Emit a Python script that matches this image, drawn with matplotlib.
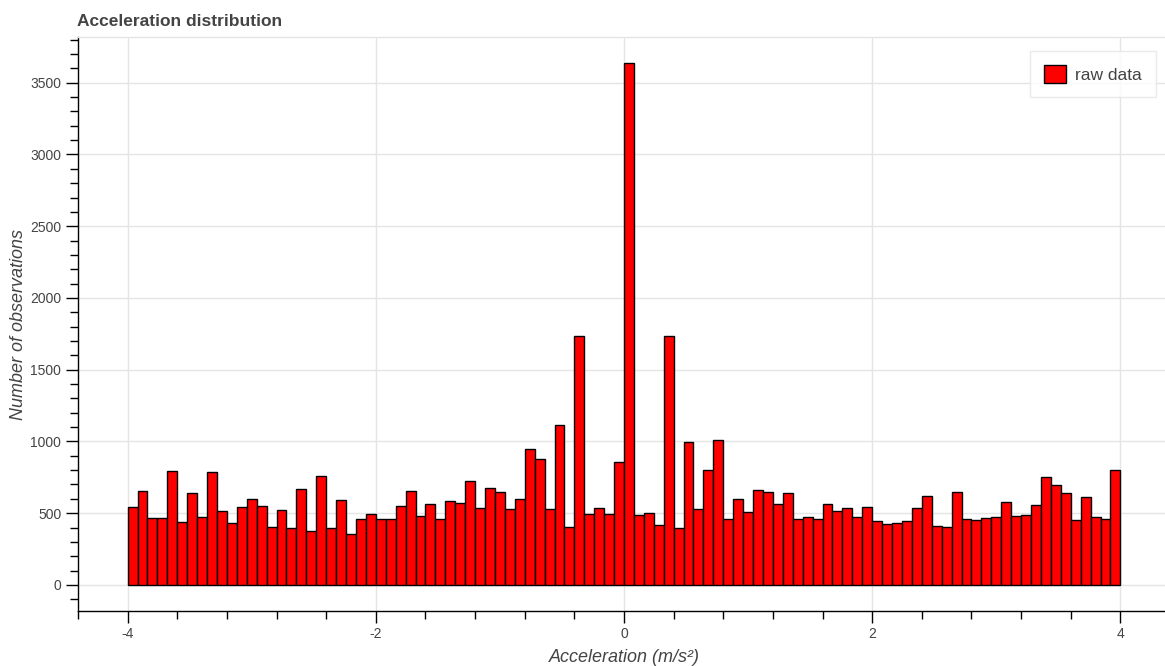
import numpy as np
import matplotlib.pyplot as plt
from matplotlib.ticker import MultipleLocator

# histogram counts, 100 bins from -4 to 4
counts = [
    543, 656, 466, 466, 793, 438, 638, 476, 789, 517,
    431, 541, 601, 548, 404, 522, 399, 666, 376, 759,
    399, 592, 357, 459, 492, 462, 462, 550, 654, 478,
    564, 462, 582, 573, 726, 536, 673, 650, 527, 596,
    946, 879, 527, 1116, 404, 1735, 494, 534, 494, 856,
    3637, 487, 503, 417, 1735, 399, 993, 527, 803, 1009,
    459, 599, 506, 661, 650, 564, 638, 457, 473, 459,
    562, 517, 536, 471, 541, 445, 424, 429, 448, 538,
    622, 413, 404, 647, 459, 452, 466, 476, 575, 480,
    487, 557, 749, 694, 638, 455, 610, 476, 462, 798,
]
x_start = -4.0
x_end = 4.0

title = "Acceleration distribution"
x_label = "Acceleration (m/s\u00b2)"
y_label = "Number of observations"
legend_label = "raw data"

plt.rcParams['font.family'] = ['Liberation Sans', 'DejaVu Sans']
plt.rcParams['axes.unicode_minus'] = False
text_color = '#444444'
grid_color = '#e5e5e5'

edges = np.linspace(x_start, x_end, len(counts) + 1)
width = edges[1] - edges[0]

fig = plt.figure(figsize=(11.65, 6.66), dpi=100)
ax = fig.add_axes([78 / 1165, 1 - 611 / 666, 1092 / 1165, 574 / 666])

ax.bar(edges[:-1], counts, width=width, align='edge', color='red',
       edgecolor='black', linewidth=1.0, label=legend_label, zorder=3)

# bokeh style range padding
pad_x = 0.05 * (x_end - x_start)
ax.set_xlim(x_start - pad_x, x_end + pad_x)
pad_y = 0.05 * max(counts)
ax.set_ylim(-pad_y, max(counts) + pad_y)

ax.xaxis.set_major_locator(MultipleLocator(2))
ax.xaxis.set_minor_locator(MultipleLocator(0.4))
ax.yaxis.set_major_locator(MultipleLocator(500))
ax.yaxis.set_minor_locator(MultipleLocator(100))

ax.grid(True, which='major', color=grid_color, linewidth=1.0, zorder=0)
ax.set_axisbelow(True)

for side in ['top', 'right']:
    ax.spines[side].set_color(grid_color)
    ax.spines[side].set_linewidth(1.0)
for side in ['left', 'bottom']:
    ax.spines[side].set_color('black')
    ax.spines[side].set_linewidth(1.0)

ax.tick_params(which='major', direction='out', length=8.5, width=1,
               colors='black', labelcolor=text_color, labelsize=10)
ax.tick_params(axis='y', which='major', pad=3.5)
ax.tick_params(axis='x', which='major', pad=3)
ax.tick_params(which='minor', direction='out', length=5.5, width=1, colors='black')

ax.set_xlabel(x_label, fontsize=13, style='italic', color=text_color, labelpad=6)
ax.set_ylabel(y_label, fontsize=13, style='italic', color=text_color, labelpad=2)

fig.text(77 / 1165, 1 - 26 / 666, title, fontsize=12.5, fontweight='bold',
         color=text_color, ha='left', va='baseline')

leg = ax.legend(loc='upper right', bbox_to_anchor=(0.987, 0.9756),
                fontsize=12.5, frameon=True, fancybox=False,
                handlelength=1.27, handleheight=1.27, borderpad=0.8,
                handletextpad=0.55, borderaxespad=0)
leg.get_frame().set_edgecolor(grid_color)
leg.get_frame().set_linewidth(1.0)
for t in leg.get_texts():
    t.set_color(text_color)

fig.savefig('out.png', dpi=100)
